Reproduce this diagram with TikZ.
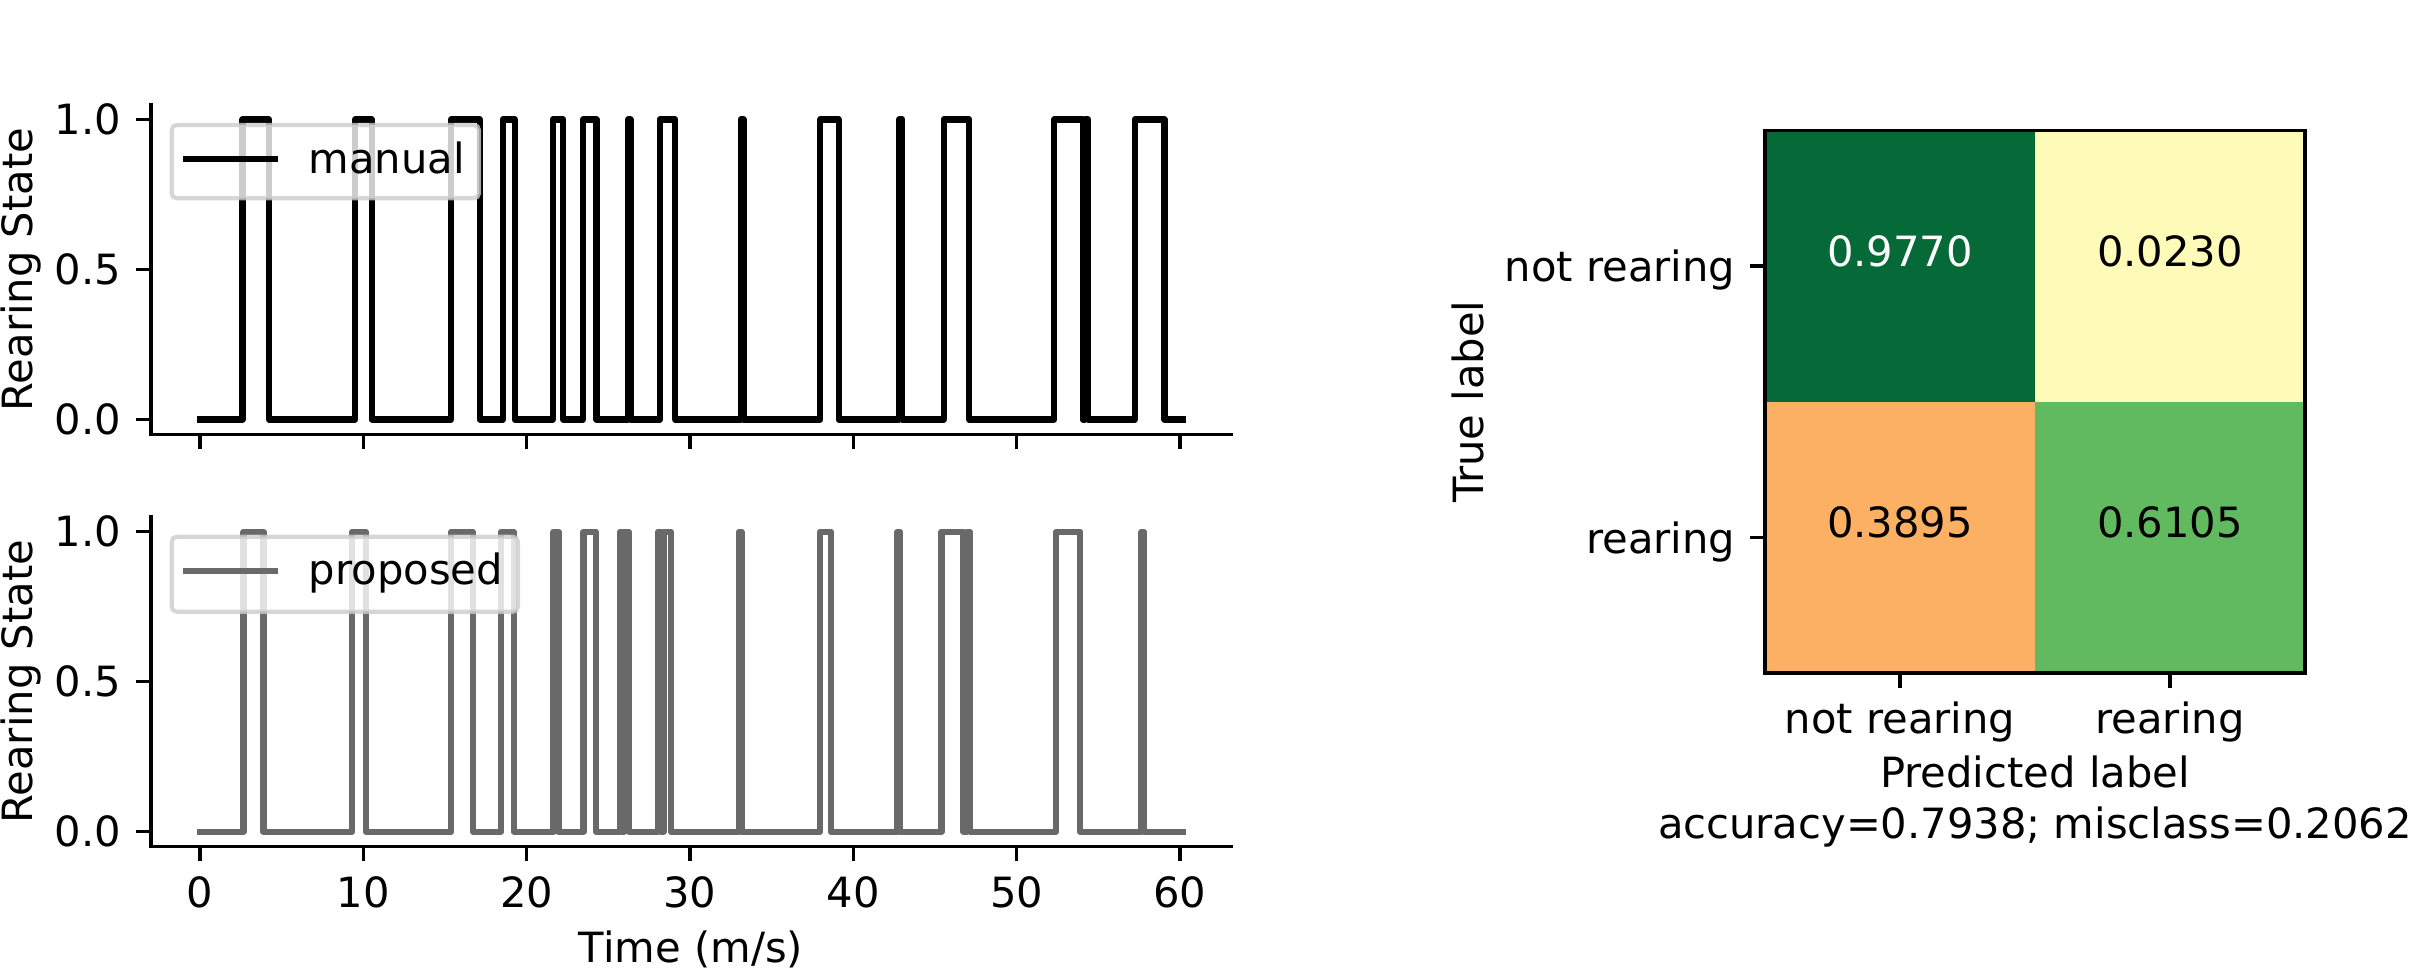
\documentclass[tikz,border=0pt]{standalone}
\usepackage{fontspec}
\setmainfont{DejaVu Sans}
\definecolor{cmA}{RGB}{6,106,56}
\definecolor{cmB}{RGB}{254,250,184}
\definecolor{cmC}{RGB}{251,176,99}
\definecolor{cmD}{RGB}{98,186,96}
\definecolor{propgray}{RGB}{105,105,105}
\definecolor{legedge}{gray}{0.8}
\begin{document}
\begin{tikzpicture}[x=0.24pt,y=-0.24pt,
  spine/.style={line width=0.8pt,line cap=rect},
  tickmark/.style={line width=0.8pt},
  lbl/.style={inner sep=0pt,font=\fontsize{10}{12}\selectfont},
  trace/.style={line width=1.5pt,line join=round,line cap=rect},
  legbox/.style={draw=legedge,line width=1pt,rounded corners=1.2pt,fill=white,fill opacity=0.8,draw opacity=0.8}]
\useasboundingbox (0,0) rectangle (2410,973);

% ---------- top panel (manual) ----------
\begin{scope}[shift={(200,419.5)},x=3.92pt,y=72pt]
\draw[trace,black] (0,0) \foreach \a/\b in {2.6/4.23,9.5/10.52,15.38/17.13,18.54/19.27,21.6/22.24,23.45/24.28,26.2/26.35,28.15/29.1,33.1/33.28,37.98/39.1,42.8/43.0,45.53/47.1,52.3/54.05,54.2/54.38,57.23/59.05}{ -- (\a,0) -- (\a,1) -- (\b,1) -- (\b,0)} -- (60.18,0);
\end{scope}
\draw[spine] (151,104.5) -- (151,434.5) -- (1231,434.5);
\foreach \v/\y in {1.0/119.5,0.5/269.5,0.0/419.5}{
  \draw[tickmark] (151,\y) -- (136.4,\y);
  \node[lbl,anchor=base east] (ta\v) at (121.8,\y+15.2) {\v};
}
\foreach \k in {0,...,6}{
  \draw[tickmark] (200+163.33*\k,434.5) -- (200+163.33*\k,449.1);
}
\node[lbl,rotate=90,anchor=base] (ylabA) at (32,269.5) {Rearing State};
\draw[legbox] (171.7,125) rectangle (479,198.3);
\draw[trace,black] (186,159) -- (275,159);
\node[lbl,anchor=base west] (legA) at (308,173.3) {manual};

% ---------- bottom panel (proposed) ----------
\begin{scope}[shift={(200,831.7)},x=3.92pt,y=72pt]
\draw[trace,propgray] (0,0) \foreach \a/\b in {2.67/3.89,9.32/10.16,15.38/16.72,18.42/19.22,21.65/21.95,23.48/24.26,25.72/25.85,25.98/26.25,28.05/28.22,28.38/28.85,33.0/33.15,37.95/38.65,42.7/42.85,45.4/46.75,46.95/47.15,52.4/53.9,57.65/57.8}{ -- (\a,0) -- (\a,1) -- (\b,1) -- (\b,0)} -- (60.18,0);
\end{scope}
\draw[spine] (151,516.7) -- (151,846.7) -- (1231,846.7);
\foreach \v/\y in {1.0/531.7,0.5/681.7,0.0/831.7}{
  \draw[tickmark] (151,\y) -- (136.4,\y);
  \node[lbl,anchor=base east] (tb\v) at (121.8,\y+15.2) {\v};
}
\foreach \k in {0,...,6}{
  \draw[tickmark] (200+163.33*\k,846.7) -- (200+163.33*\k,861.3);
  \pgfmathtruncatemacro{\lab}{10*\k}
  \node[lbl,anchor=base] (xt\k) at (200+163.33*\k,907) {\lab};
}
\node[lbl,anchor=base] (xlab) at (691,962) {Time (m/s)};
\node[lbl,rotate=90,anchor=base] (ylabB) at (32,681.7) {Rearing State};
\draw[legbox] (171.7,536.7) rectangle (518,611.7);
\draw[trace,propgray] (186,571) -- (275,571);
\node[lbl,anchor=base west] (legB) at (308,585) {proposed};

% ---------- confusion matrix ----------
\fill[cmA] (1765,130.5) rectangle (2035,401.75);
\fill[cmB] (2035,130.5) rectangle (2305,401.75);
\fill[cmC] (1765,401.75) rectangle (2035,673);
\fill[cmD] (2035,401.75) rectangle (2305,673);
\draw[spine] (1765,130.5) rectangle (2305,673);
\node[lbl,anchor=base,text=white] (c11) at (1900,266.1) {0.9770};
\node[lbl,anchor=base] (c12) at (2170,266.1) {0.0230};
\node[lbl,anchor=base] (c21) at (1900,537.4) {0.3895};
\node[lbl,anchor=base] (c22) at (2170,537.4) {0.6105};
\draw[tickmark] (1765,266.1) -- (1750.4,266.1);
\draw[tickmark] (1765,537.4) -- (1750.4,537.4);
\draw[tickmark] (1900,673) -- (1900,687.6);
\draw[tickmark] (2170,673) -- (2170,687.6);
\node[lbl,anchor=base east] (r1) at (1736,282) {not rearing};
\node[lbl,anchor=base east] (r2) at (1736,553.4) {rearing};
\node[lbl,anchor=base] (k1) at (1900,734) {not rearing};
\node[lbl,anchor=base] (k2) at (2170,734) {rearing};
\node[lbl,rotate=90,anchor=base] (tl) at (1483,401.75) {True label};
\node[lbl,anchor=base] (pl) at (2035,788) {Predicted label};
\node[lbl,anchor=base] (acc) at (2035,838) {accuracy=0.7938; misclass=0.2062};
\end{tikzpicture}
\end{document}
